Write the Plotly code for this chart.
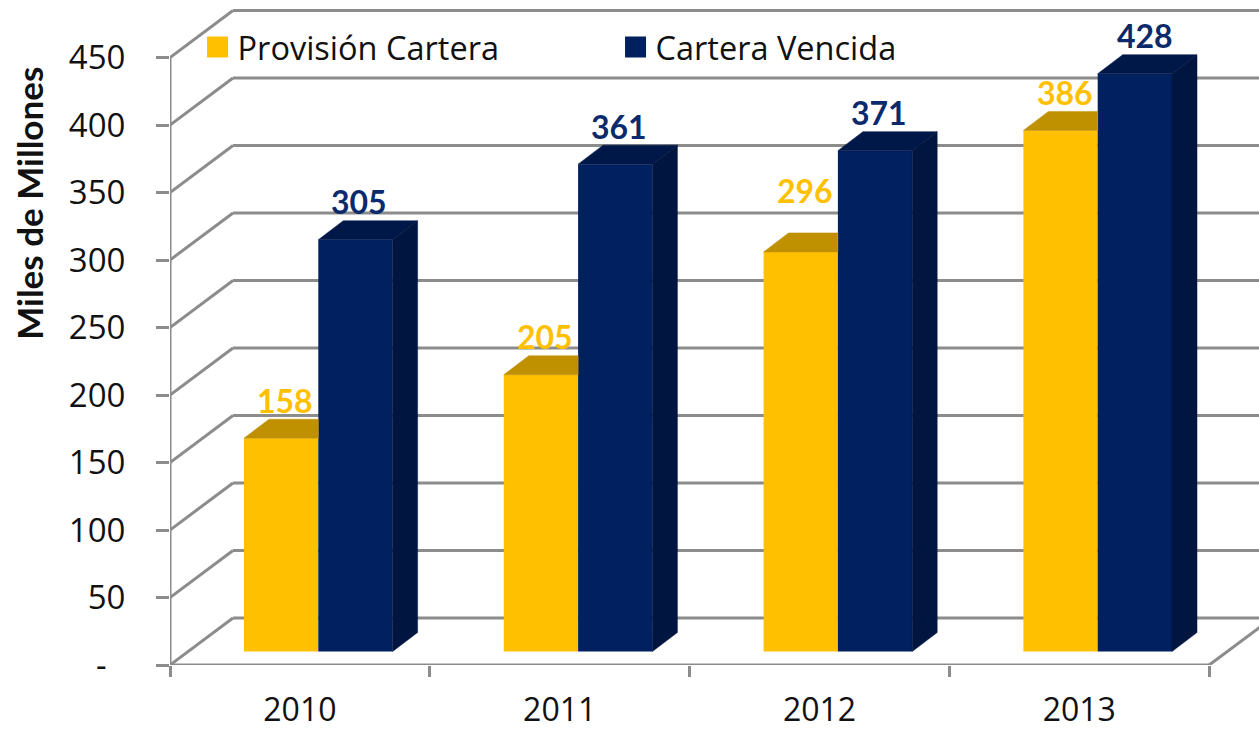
import plotly.graph_objects as go

years = ["2010", "2011", "2012", "2013"]
provision = [158, 205, 296, 386]
overdue = [305, 361, 371, 428]
y_ticks = [0, 50, 100, 150, 200, 250, 300, 350, 400, 450]
y_labels = ["-\u2007", "50", "100", "150", "200", "250", "300", "350", "400", "450"]

W, H = 1259, 730
ML, MB = 170, 65
PX_CAT = 259.8
PX_UNIT = 1.35
XMAX = (W - ML) / PX_CAT
YMAX = (H - MB) / PX_UNIT

WALL_DX, WALL_DY = 63 / PX_CAT, 47 / PX_UNIT
BAR_DX, BAR_DY = 25 / PX_CAT, 19 / PX_UNIT
BASE = 13.5 / PX_UNIT
BAR_W = 74.3 / PX_CAT
GROUP_OFF = 74 / PX_CAT

GRID = "#8C8C8C"
YEL, YEL_TOP = "#FFC000", "#BF9000"
BLU, BLU_TOP, BLU_SIDE = "#002060", "#001848", "#001540"
LABEL_BLUE = "#0B2A6B"
FONT = "Open Sans"
LABEL_FONT = "Lato"

fig = go.Figure()

x_yel = [i + GROUP_OFF + BAR_W / 2 for i in range(4)]
x_blu = [i + GROUP_OFF + 3 * BAR_W / 2 for i in range(4)]

fig.add_trace(go.Bar(x=x_yel, y=provision, base=BASE, width=BAR_W, marker=dict(color=YEL, line=dict(width=0)),
                     name="Provisión Cartera", showlegend=False))
fig.add_trace(go.Bar(x=x_blu, y=overdue, base=BASE, width=BAR_W, marker=dict(color=BLU, line=dict(width=0)),
                     name="Cartera Vencida", showlegend=False))

for i in range(4):
    x0, x1 = i + GROUP_OFF, i + GROUP_OFF + BAR_W
    t = provision[i] + BASE
    fig.add_trace(go.Scatter(x=[x0, x0 + BAR_DX, x1, x1, x0], y=[t, t + BAR_DY, t + BAR_DY, t, t],
                             mode="lines", fill="toself", fillcolor=YEL_TOP, line=dict(width=0.5, color=YEL_TOP),
                             showlegend=False, hoverinfo="skip"))
    x2 = x1 + BAR_W
    t = overdue[i] + BASE
    fig.add_trace(go.Scatter(x=[x1, x1 + BAR_DX, x2 + BAR_DX, x2, x1], y=[t, t + BAR_DY, t + BAR_DY, t, t],
                             mode="lines", fill="toself", fillcolor=BLU_TOP, line=dict(width=0.5, color=BLU_TOP),
                             showlegend=False, hoverinfo="skip"))
    fig.add_trace(go.Scatter(x=[x2, x2 + BAR_DX, x2 + BAR_DX, x2, x2],
                             y=[BASE, BASE + BAR_DY, t + BAR_DY, t, BASE],
                             mode="lines", fill="toself", fillcolor=BLU_SIDE, line=dict(width=0.5, color=BLU_SIDE),
                             showlegend=False, hoverinfo="skip"))

# legend entries
for name, col in [("Provisión Cartera", YEL), ("Cartera Vencida", BLU)]:
    fig.add_trace(go.Scatter(x=[None], y=[None], mode="markers", name=name,
                             marker=dict(symbol="square", size=16, color=col, line=dict(color=col, width=5))))

# walls, floor and gridlines
shapes = []
def seg(x0, y0, x1, y1):
    shapes.append(dict(type="line", xref="x", yref="y", x0=x0, y0=y0, x1=x1, y1=y1, layer="below",
                       line=dict(color=GRID, width=3)))
for v in y_ticks:
    seg(0, v, WALL_DX, v + WALL_DY)
    seg(WALL_DX, v + WALL_DY, XMAX, v + WALL_DY)
seg(0, 0, 0, y_ticks[-1])
seg(0, 0, 4, 0)
seg(4, 0, 4 + WALL_DX, WALL_DY)

# data labels
annotations = []
for i in range(4):
    annotations.append(dict(x=x_yel[i], y=provision[i] + BASE, text=str(provision[i]), showarrow=False,
                            xshift=4, yshift=61 if i == 2 else 38,
                            font=dict(family=LABEL_FONT, size=32, color=YEL, weight="bold")))
    annotations.append(dict(x=x_blu[i], y=overdue[i] + BASE, text=str(overdue[i]), showarrow=False,
                            xshift=10 if i == 3 else 4, yshift=38,
                            font=dict(family=LABEL_FONT, size=32, color=LABEL_BLUE, weight="bold")))
annotations.append(dict(xref="paper", yref="paper", x=-0.1295, y=0.695, xanchor="center", yanchor="middle",
                        text="Miles de Millones", textangle=-90,
                        showarrow=False, font=dict(family=LABEL_FONT, size=35, color="#111111", weight="bold")))

fig.update_layout(
    width=W, height=H, margin=dict(l=ML, r=0, t=0, b=MB, pad=0, autoexpand=False),
    paper_bgcolor="white", plot_bgcolor="white", barmode="overlay",
    shapes=shapes, annotations=annotations,
    font=dict(family=FONT, color="#111111"),
    hovermode=False,
    legend=dict(orientation="h", x=0.0253, y=0.971, xanchor="left", yanchor="top",
                bgcolor="rgba(0,0,0,0)", font=dict(family=FONT, size=32.5, color="#111111"),
                entrywidth=373, entrywidthmode="pixels", itemwidth=30, traceorder="normal"),
    xaxis=dict(range=[0, XMAX], tickmode="array", tickvals=[i + 0.5 for i in range(4)], ticktext=years,
               ticks="", showgrid=False, zeroline=False, showline=False, ticklabelstandoff=23,
               tickfont=dict(family=FONT, size=32, color="#111111"),
               minor=dict(tickmode="array", tickvals=[0, 1, 2, 3, 4], ticks="outside", ticklen=11,
                          tickwidth=3, tickcolor=GRID, showgrid=False)),
    yaxis=dict(range=[0, YMAX], tickmode="array", tickvals=y_ticks, ticktext=y_labels, ticks="outside",
               ticklen=13, tickwidth=3, tickcolor=GRID, showgrid=False, zeroline=False, showline=False,
               ticklabelstandoff=24, tickfont=dict(family=FONT, size=33, color="#111111")),
)
fig.write_html("out.html", config={"displayModeBar": False},
               post_script="document.body.style.margin='0';document.documentElement.style.overflow='hidden';")
